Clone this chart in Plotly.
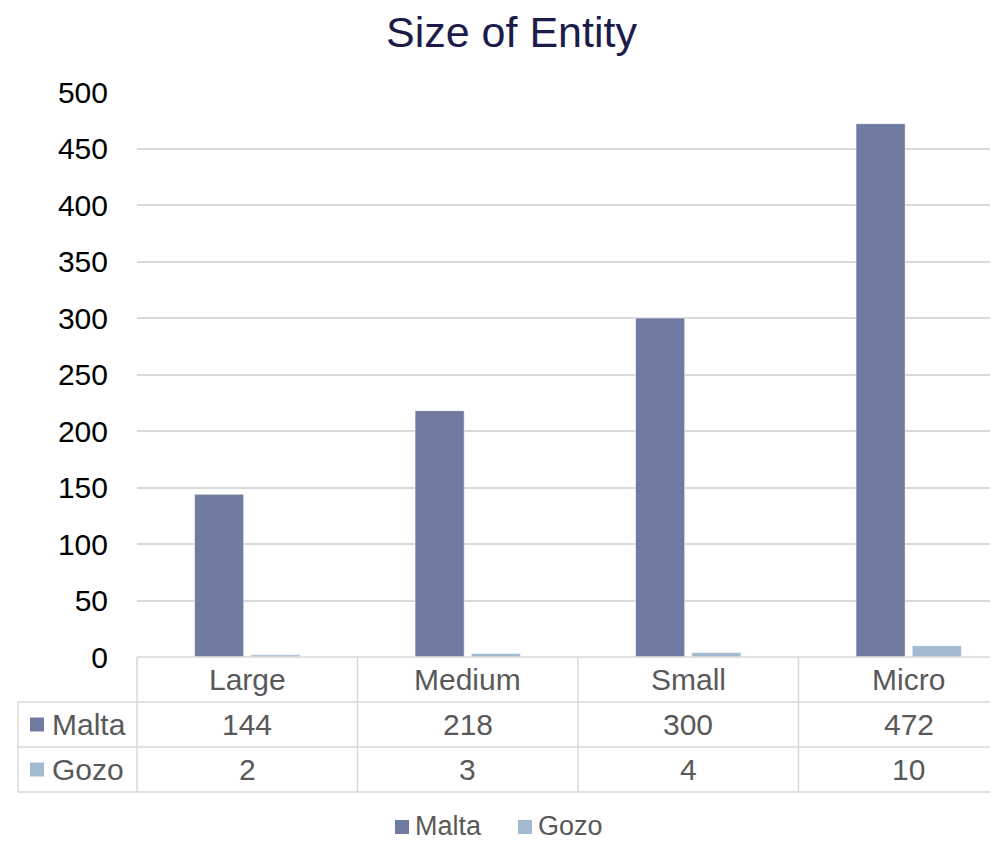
import plotly.graph_objects as go

categories = ["Large", "Medium", "Small", "Micro"]
malta = [144, 218, 300, 472]
gozo = [2, 3, 4, 10]
series_names = ["Malta", "Gozo"]
colors = ["#717BA1", "#A2B9D0"]
title = "Size of Entity"

OFF = 8  # page body margin
W, H = 998 - OFF, 841 - OFF
ML, MR, MT, MB = 137 - OFF, 0, 92 - OFF, 841 - 657
XR = [-0.5, 3.405]
plot_w = W - ML - MR
plot_h = H - MT - MB

def px_to_py(ypx):
    return (H - MB - (ypx - OFF)) / plot_h

def px_to_px(xpx):
    return ((xpx - OFF) - ML) / plot_w

def d_to_px(d):
    return (d - XR[0]) / (XR[1] - XR[0])

FONT = "Liberation Sans, Arial, sans-serif"
GRID = "#D9D9D9"
TXT = "#595959"
FS = 30

fig = go.Figure()
for name, vals, col in zip(series_names, [malta, gozo], colors):
    fig.add_trace(go.Bar(x=categories, y=vals, name=name,
                         marker=dict(color=col, line=dict(color="rgba(255,255,255,0.6)", width=1)),
                         showlegend=False))

shapes = []
annotations = []

row_top = 657
row_lines = [702, 747, 792]
shapes.append(dict(type="line", xref="paper", yref="paper", x0=0, x1=1,
                   y0=px_to_py(row_top), y1=px_to_py(row_top), line=dict(color=GRID, width=1.5)))
for r in row_lines:
    shapes.append(dict(type="line", xref="paper", yref="paper", x0=px_to_px(18), x1=1,
                       y0=px_to_py(r), y1=px_to_py(r), line=dict(color=GRID, width=1.5)))
shapes.append(dict(type="line", xref="paper", yref="paper", x0=px_to_px(18), x1=px_to_px(18),
                   y0=px_to_py(702), y1=px_to_py(792), line=dict(color=GRID, width=1.5)))
for i in range(len(categories)):
    xb = d_to_px(i - 0.5)
    shapes.append(dict(type="line", xref="paper", yref="paper", x0=xb, x1=xb,
                       y0=px_to_py(row_top), y1=px_to_py(792), line=dict(color=GRID, width=1.5)))

for i, c in enumerate(categories):
    annotations.append(dict(x=d_to_px(i), y=px_to_py(679.5), xref="paper", yref="paper",
                            text=c, showarrow=False, font=dict(family=FONT, size=FS, color=TXT),
                            xanchor="center", yanchor="middle"))
for ri, (name, vals, col) in enumerate(zip(series_names, [malta, gozo], colors)):
    yc = 724.5 + 45 * ri
    for i, v in enumerate(vals):
        annotations.append(dict(x=d_to_px(i), y=px_to_py(yc), xref="paper", yref="paper",
                                text=str(v), showarrow=False, font=dict(family=FONT, size=FS, color=TXT),
                                xanchor="center", yanchor="middle"))
    shapes.append(dict(type="rect", xref="paper", yref="paper", x0=px_to_px(30), x1=px_to_px(44),
                       y0=px_to_py(yc - 7), y1=px_to_py(yc + 7), fillcolor=col, line=dict(width=0)))
    annotations.append(dict(x=px_to_px(50), y=px_to_py(yc), xref="paper", yref="paper",
                            text=name, showarrow=False, font=dict(family=FONT, size=FS, color=TXT),
                            xanchor="left", yanchor="middle"))

leg_y = 826
leg_x = [395, 518]
for name, col, lx in zip(series_names, colors, leg_x):
    shapes.append(dict(type="rect", xref="paper", yref="paper", x0=px_to_px(lx), x1=px_to_px(lx + 14),
                       y0=px_to_py(leg_y - 6), y1=px_to_py(leg_y + 8), fillcolor=col, line=dict(width=0)))
    annotations.append(dict(x=px_to_px(lx + 18), y=px_to_py(leg_y), xref="paper", yref="paper",
                            text=name, showarrow=False, font=dict(family=FONT, size=27, color=TXT),
                            xanchor="left", yanchor="middle"))

fig.update_layout(
    width=W, height=H,
    margin=dict(l=ML, r=MR, t=MT, b=MB),
    paper_bgcolor="white", plot_bgcolor="white",
    title=dict(text=title, x=px_to_px(511.5), xref="paper", xanchor="center",
               y=1 - (32 - OFF) / H, yanchor="middle",
               font=dict(family=FONT, size=43, color="#1C1C4A")),
    barmode="group", bargap=0.49, bargroupgap=0.125,
    xaxis=dict(range=XR, showticklabels=False, showgrid=False, showline=False, zeroline=False, ticks=""),
    yaxis=dict(range=[0, 500], dtick=50, showgrid=True, gridcolor=GRID, gridwidth=1.5,
               zeroline=False, showline=False, ticks="",
               tickfont=dict(family=FONT, size=FS, color="#000000"), ticklabelstandoff=28),
    shapes=shapes, annotations=annotations,
)

fig.write_html("out.html")
